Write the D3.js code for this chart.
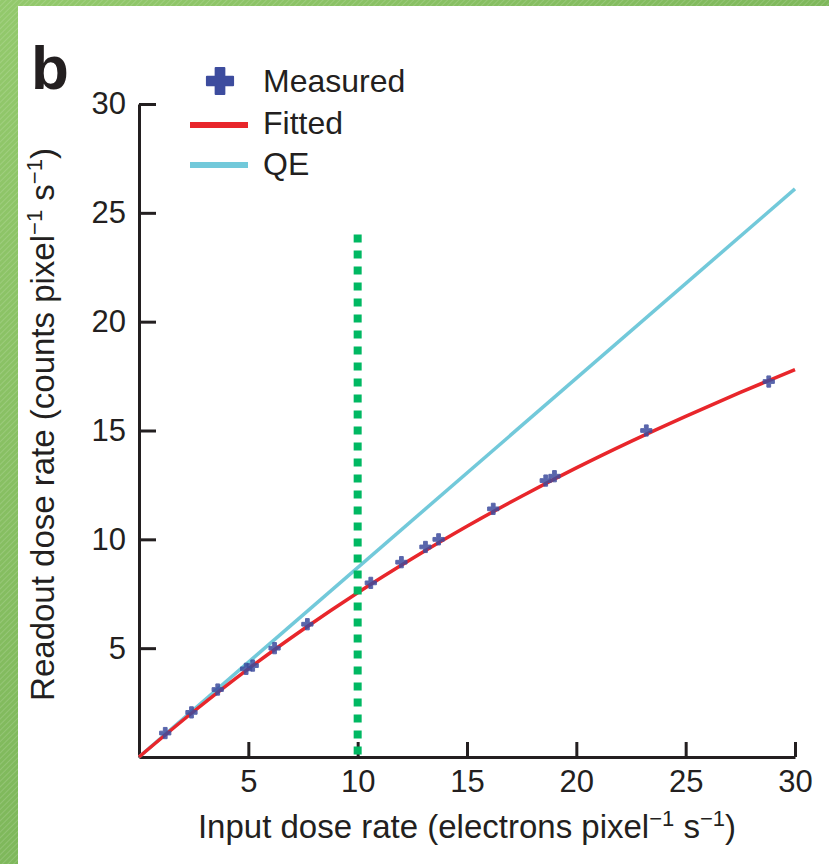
<!DOCTYPE html>
<html>
<head>
<meta charset="utf-8">
<script src="https://cdn.jsdelivr.net/npm/d3@7"></script>
<style>
    body { margin: 0; background: #fff; }
    svg { display: block; font-family: "Liberation Sans", Arial, Helvetica, sans-serif; }
</style>
</head>
<body>
<svg id="chart"></svg>
<script>
// measured points (input dose rate, readout dose rate)
const measuredX = [1.2, 2.4, 3.6, 4.9, 5.2, 6.2, 7.7, 10.6, 12.0, 13.1, 13.7, 16.2, 18.6, 19.0, 23.2, 28.8];
const measuredY = [1.1, 2.05, 3.1, 4.05, 4.2, 5.0, 6.1, 8.0, 8.95, 9.65, 10.0, 11.4, 12.7, 12.9, 15.0, 17.25];

// fitted curve
const fittedX = [0, 2.5, 5, 7.5, 10, 12.5, 15, 17.5, 20, 22.5, 25, 27.5, 30];
const fittedY = [0, 2.09, 4.05, 5.86, 7.55, 9.12, 10.6, 11.98, 13.28, 14.5, 15.65, 16.75, 17.8];

// QE line
const qeX = [0, 30];
const qeY = [0, 26.1];

// dotted marker at 10 e/pix/s
const cutoffX = 10;
const cutoffTop = 24;

const xTicks = [5, 10, 15, 20, 25, 30];
const yTicks = [5, 10, 15, 20, 25, 30];
const legendLabels = ["Measured", "Fitted", "QE"];

class DoseChart {
    margin = { top: 104, right: 34, bottom: 107, left: 139 };

    constructor(svg, width = 829, height = 864) {
        this.svg = d3.select(svg);
        this.width = width;
        this.height = height;
        this.colors = { measured: "#3d4c9e", fitted: "#e8262b", qe: "#72c9da", cutoff: "#00b862", axis: "#231f20" };
    }

    initialize() {
        this.svg.attr("width", this.width).attr("height", this.height);

        this.x = d3.scaleLinear()
            .domain([0, 30])
            .range([this.margin.left, this.width - this.margin.right]);
        this.y = d3.scaleLinear()
            .domain([0, 30])
            .range([this.height - this.margin.bottom, this.margin.top]);

        this.addBackground();
        this.addAxes();
        this.drawSeries();
        this.addLegend();
    }

    addBackground() {
        const defs = this.svg.append("defs");
        const grad = defs.append("linearGradient")
            .attr("id", "frame")
            .attr("x1", 0).attr("y1", 0).attr("x2", 1).attr("y2", 1);
        grad.append("stop").attr("offset", 0).attr("stop-color", "#93c96c");
        grad.append("stop").attr("offset", 1).attr("stop-color", "#6aa74a");

        const pat = defs.append("pattern")
            .attr("id", "stripes")
            .attr("width", 4).attr("height", 4)
            .attr("patternUnits", "userSpaceOnUse")
            .attr("patternTransform", "rotate(45)");
        pat.append("rect").attr("width", 1).attr("height", 4).attr("fill", "rgba(255,255,255,0.15)");

        this.svg.append("rect").attr("width", this.width).attr("height", this.height).attr("fill", "url(#frame)");
        this.svg.append("rect").attr("width", this.width).attr("height", this.height).attr("fill", "url(#stripes)");
        this.svg.append("rect")
            .attr("x", 18).attr("y", 6)
            .attr("width", this.width - 18).attr("height", this.height - 6)
            .attr("fill", "#fff");

        this.svg.append("text")
            .attr("x", 31).attr("y", 89)
            .style("font-size", "62px")
            .style("font-weight", "bold")
            .attr("fill", this.colors.axis)
            .text("b");
    }

    addAxes() {
        const bottom = this.height - this.margin.bottom;

        const xAxis = this.svg.append("g")
            .attr("transform", `translate(0,${bottom})`)
            .call(d3.axisBottom(this.x).tickValues(xTicks).tickSize(-15).tickSizeOuter(0).tickPadding(13));

        const yAxis = this.svg.append("g")
            .attr("transform", `translate(${this.margin.left},0)`)
            .call(d3.axisLeft(this.y).tickValues(yTicks).tickSize(-17).tickSizeOuter(0).tickPadding(13));

        [xAxis, yAxis].forEach(g => {
            g.select(".domain").attr("stroke", this.colors.axis).attr("stroke-width", 3);
            g.selectAll(".tick line").attr("stroke", this.colors.axis).attr("stroke-width", 3);
            g.selectAll(".tick text")
                .attr("fill", this.colors.axis)
                .style("font-size", "31px")
                .style("font-family", null);
        });

        // axis titles with superscripts
        const xTitle = this.svg.append("text")
            .attr("x", (this.x(0) + this.x(30)) / 2)
            .attr("y", 838)
            .attr("text-anchor", "middle")
            .attr("fill", this.colors.axis)
            .style("font-size", "33px");
        this.addTitleParts(xTitle, "Input dose rate (electrons pixel");

        const yTitle = this.svg.append("text")
            .attr("transform", `translate(54,${(this.y(0) + this.y(30)) / 2 - 6}) rotate(-90)`)
            .attr("text-anchor", "middle")
            .attr("fill", this.colors.axis)
            .style("font-size", "33px");
        this.addTitleParts(yTitle, "Readout dose rate (counts pixel");
    }

    addTitleParts(text, lead) {
        text.append("tspan").text(lead);
        text.append("tspan").attr("dy", -12).style("font-size", "22px").text("\u22121");
        text.append("tspan").attr("dy", 12).text(" s");
        text.append("tspan").attr("dy", -12).style("font-size", "22px").text("\u22121");
        text.append("tspan").attr("dy", 12).text(")");
    }

    drawSeries() {
        const line = d3.line()
            .x(d => this.x(d[0]))
            .y(d => this.y(d[1]));

        this.svg.append("path")
            .datum(qeX.map((v, i) => [v, qeY[i]]))
            .attr("fill", "none")
            .attr("stroke", this.colors.qe)
            .attr("stroke-width", 3.5)
            .attr("d", line);

        this.svg.append("path")
            .datum(fittedX.map((v, i) => [v, fittedY[i]]))
            .attr("fill", "none")
            .attr("stroke", this.colors.fitted)
            .attr("stroke-width", 3.5)
            .attr("d", line.curve(d3.curveMonotoneX));

        this.svg.append("line")
            .attr("x1", this.x(cutoffX)).attr("x2", this.x(cutoffX))
            .attr("y1", this.y(cutoffTop)).attr("y2", this.y(0))
            .attr("stroke", this.colors.cutoff)
            .attr("stroke-width", 8)
            .attr("stroke-dasharray", "8,8");

        const marker = d3.symbol().type(d3.symbolCross).size(70);
        this.svg.append("g")
            .selectAll("path")
            .data(measuredX.map((v, i) => [v, measuredY[i]]))
            .join("path")
            .attr("transform", d => `translate(${this.x(d[0])},${this.y(d[1])})`)
            .attr("d", marker)
            .attr("fill", this.colors.measured)
            .attr("stroke", this.colors.measured)
            .attr("stroke-width", 1)
            .attr("stroke-linejoin", "round")
            .attr("opacity", 0.85);
    }

    addLegend() {
        const legend = this.svg.append("g").attr("class", "legend");
        const rows = [92, 134, 175];

        legend.append("path")
            .attr("transform", `translate(220,${rows[0] - 11})`)
            .attr("d", d3.symbol().type(d3.symbolCross).size(380))
            .attr("fill", this.colors.measured)
            .attr("stroke", this.colors.measured)
            .attr("stroke-width", 2)
            .attr("stroke-linejoin", "round");

        legend.append("line")
            .attr("x1", 190).attr("x2", 248)
            .attr("y1", rows[1] - 9).attr("y2", rows[1] - 9)
            .attr("stroke", this.colors.fitted).attr("stroke-width", 6);

        legend.append("line")
            .attr("x1", 190).attr("x2", 248)
            .attr("y1", rows[2] - 10).attr("y2", rows[2] - 10)
            .attr("stroke", this.colors.qe).attr("stroke-width", 6);

        legend.selectAll("text")
            .data(legendLabels)
            .join("text")
            .attr("x", 263)
            .attr("y", (d, i) => rows[i])
            .attr("fill", this.colors.axis)
            .style("font-size", "32px")
            .text(d => d);
    }
}

const chart = new DoseChart(document.getElementById("chart"));
chart.initialize();
</script>
</body>
</html>
